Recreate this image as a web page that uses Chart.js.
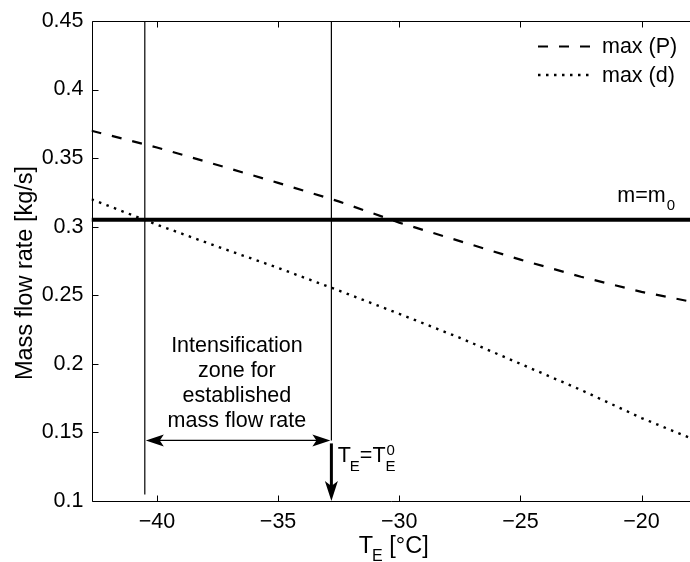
<!DOCTYPE html>
<html>
<head>
<meta charset="utf-8">
<script src="https://cdn.jsdelivr.net/npm/chart.js@4/dist/chart.umd.min.js"></script>
<style>
  html, body { margin: 0; padding: 0; background: #fff; }
  canvas { display: block; }
</style>
</head>
<body>
<canvas id="chart" width="690" height="562"></canvas>
<script>
// Evaporator temperature T_E, °C
const tempC = [-42.7, -40, -37.5, -35, -32.5, -30, -27.5, -25, -22.5, -20, -18];
// Maximum mass flow rate limited by pressure drop, kg/s
const maxP = [0.370, 0.3578, 0.345, 0.332, 0.3185, 0.303, 0.2895, 0.276, 0.2635, 0.2525, 0.2455];
// Maximum mass flow rate limited by pipe diameter, kg/s
const maxD = [0.320, 0.3015, 0.2855, 0.270, 0.2535, 0.2365, 0.219, 0.200, 0.181, 0.1605, 0.146];
// Established mass flow rate m0, kg/s
const m0 = 0.305;

const tRange = [-42.7, -18];
const flowRange = [0.1, 0.45];
const xTicks = [-40, -35, -30, -25, -20];
const yTicks = [0.1, 0.15, 0.2, 0.25, 0.3, 0.35, 0.4, 0.45];

// Intensification zone: from where max(d) meets m0 up to T_E^0
const zoneLimits = [-40.5, -32.8];
const zoneLineBottom = [0.1047, 0.1442];
const zoneArrowFlow = 0.1442;
const teArrowTop = 0.142;

const zoneLabel = ['Intensification', 'zone for', 'established', 'mass flow rate'];
const zoneLabelAt = [-36.7, 0.2084];
const m0LabelAt = [-21.0, 0.318];
const teLabelAt = [-32.54, 0.1288];

const FONT = "'Liberation Sans', Arial, Helvetica, sans-serif";
const TICK_SIZE = 21.5;
const TITLE_SIZE = 23.5;

const pts = (xs, ys) => xs.map((x, i) => ({ x, y: ys[i] }));
const fmtTick = v => String(v).replace('-', '\u2212');

function font(size) { return size + 'px ' + FONT; }

// Filled arrow head with a notched back, tip at (x, y), pointing along angle a
function arrowHead(ctx, x, y, a, len, half, notch) {
  ctx.save();
  ctx.translate(x, y);
  ctx.rotate(a);
  ctx.beginPath();
  ctx.moveTo(0, 0);
  ctx.lineTo(-len, -half);
  ctx.lineTo(-len + notch, 0);
  ctx.lineTo(-len, half);
  ctx.closePath();
  ctx.fill();
  ctx.restore();
}

// Draws a run of text pieces; each piece: [text, size, baselineShift, dx]
function drawRuns(ctx, x, y, runs) {
  let cx = x;
  for (const [t, size, shift, dx] of runs) {
    ctx.font = font(size);
    cx += dx || 0;
    ctx.fillText(t, cx, y + shift);
    cx += ctx.measureText(t).width;
  }
  return cx;
}
function runsWidth(ctx, runs) {
  let w = 0;
  for (const [t, size, , dx] of runs) { ctx.font = font(size); w += (dx || 0) + ctx.measureText(t).width; }
  return w;
}

const decorations = {
  id: 'decorations',
  afterDatasetsDraw(chart) {
    const { ctx, chartArea: a, scales: { x, y } } = chart;
    ctx.save();
    ctx.strokeStyle = '#000';
    ctx.fillStyle = '#000';

    // axes box (left, bottom, top) with inward ticks
    ctx.lineWidth = 1;
    const L = Math.round(a.left) + 0.5, B = Math.round(a.bottom) + 0.5, T = Math.round(a.top) + 0.5;
    ctx.beginPath();
    ctx.moveTo(a.right, T); ctx.lineTo(L, T); ctx.lineTo(L, B); ctx.lineTo(a.right, B);
    for (const v of xTicks) {
      const px = Math.round(x.getPixelForValue(v)) + 0.5;
      ctx.moveTo(px, B); ctx.lineTo(px, B - 6);
      ctx.moveTo(px, T); ctx.lineTo(px, T + 6);
    }
    for (const v of yTicks) {
      const py = Math.round(y.getPixelForValue(v)) + 0.5;
      ctx.moveTo(L, py); ctx.lineTo(L + 6, py);
    }
    ctx.stroke();

    // double arrow across the intensification zone
    const ax0 = x.getPixelForValue(zoneLimits[0]);
    const ax1 = x.getPixelForValue(zoneLimits[1]);
    const ay = y.getPixelForValue(zoneArrowFlow);
    ctx.lineWidth = 1.2;
    ctx.beginPath();
    ctx.moveTo(ax0 + 10, ay); ctx.lineTo(ax1 - 10, ay);
    ctx.stroke();
    arrowHead(ctx, ax0 + 1, ay, Math.PI, 18, 6, 4);
    arrowHead(ctx, ax1 - 1, ay, 0, 18, 6, 4);

    // thick arrow pointing down to T_E^0
    const tx = x.getPixelForValue(zoneLimits[1]);
    const tyTop = y.getPixelForValue(teArrowTop);
    const tyTip = y.getPixelForValue(flowRange[0]);
    ctx.lineWidth = 3;
    ctx.beginPath();
    ctx.moveTo(tx, tyTop); ctx.lineTo(tx, tyTip - 12);
    ctx.stroke();
    arrowHead(ctx, tx, tyTip, Math.PI / 2, 20, 6.5, 5);

    // zone text
    ctx.textAlign = 'center';
    ctx.textBaseline = 'alphabetic';
    ctx.font = font(TICK_SIZE);
    const zx = x.getPixelForValue(zoneLabelAt[0]);
    const zy = y.getPixelForValue(zoneLabelAt[1]);
    zoneLabel.forEach((line, i) => ctx.fillText(line, zx, zy + i * 25));

    // m = m0
    ctx.textAlign = 'left';
    drawRuns(ctx, x.getPixelForValue(m0LabelAt[0]), y.getPixelForValue(m0LabelAt[1]), [
      ['m=m', TICK_SIZE, 0, 0], ['0', 15, 8, 1]
    ]);

    // T_E = T_E^0
    const lx = x.getPixelForValue(teLabelAt[0]);
    const ly = y.getPixelForValue(teLabelAt[1]);
    let cx = drawRuns(ctx, lx, ly, [['T', TICK_SIZE, 0, 0], ['E', 15, 9, -1]]);
    cx = drawRuns(ctx, cx, ly, [['=', TICK_SIZE, 0, 0], ['T', TICK_SIZE, 0, 0]]);
    ctx.font = font(15);
    ctx.fillText('0', cx + 1, ly - 7);
    ctx.fillText('E', cx, ly + 9);

    // legend
    const items = [chart.data.datasets[0], chart.data.datasets[1]];
    const legY = [46.5, 75];
    items.forEach((ds, i) => {
      ctx.save();
      ctx.lineWidth = ds.borderWidth;
      ctx.setLineDash(ds.borderDash || []);
      ctx.beginPath();
      ctx.moveTo(538, legY[i]); ctx.lineTo(591, legY[i]);
      ctx.stroke();
      ctx.restore();
      ctx.font = font(TICK_SIZE);
      ctx.textBaseline = 'middle';
      ctx.fillText(ds.label, 602, legY[i] + 1);
    });

    // axis titles
    ctx.textBaseline = 'alphabetic';
    const xt = [['T', TITLE_SIZE, 0, 0], ['E', 16, 8, -1], [' [\u00B0C]', TITLE_SIZE, 0, 0]];
    const xw = runsWidth(ctx, xt);
    drawRuns(ctx, (a.left + a.right) / 2 + 3 - xw / 2, 553, xt);

    ctx.save();
    ctx.translate(32, 273);
    ctx.rotate(-Math.PI / 2);
    ctx.textAlign = 'center';
    ctx.font = font(TITLE_SIZE);
    ctx.fillText('Mass flow rate [kg/s]', 0, 0);
    ctx.restore();

    ctx.restore();
  }
};

const line = (label, data, width, dash) => ({
  label, data,
  borderColor: '#000',
  borderWidth: width,
  borderDash: dash,
  borderCapStyle: 'butt',
  pointRadius: 0,
  fill: false,
  tension: 0
});

new Chart(document.getElementById('chart'), {
  type: 'line',
  data: {
    datasets: [
      line('max (P)', pts(tempC, maxP), 2.2, [10, 11]),
      line('max (d)', pts(tempC, maxD), 2.4, [2.5, 5.5]),
      line('m=m0', [{ x: tRange[0], y: m0 }, { x: tRange[1], y: m0 }], 4, []),
      line('zone start', [{ x: zoneLimits[0], y: zoneLineBottom[0] }, { x: zoneLimits[0], y: flowRange[1] }], 1.2, []),
      line('zone end', [{ x: zoneLimits[1], y: zoneLineBottom[1] }, { x: zoneLimits[1], y: flowRange[1] }], 1.2, [])
    ]
  },
  options: {
    responsive: false,
    animation: false,
    devicePixelRatio: 1,
    layout: { padding: { top: 21, left: 0, right: 0, bottom: 0 } },
    plugins: { legend: { display: false }, tooltip: { enabled: false } },
    scales: {
      x: {
        type: 'linear',
        min: tRange[0], max: tRange[1],
        grid: { display: false, drawTicks: false },
        border: { display: false },
        afterBuildTicks: s => { s.ticks = xTicks.map(v => ({ value: v })); },
        afterFit: s => { s.height = 61; },
        ticks: {
          color: '#000', font: { family: FONT, size: TICK_SIZE },
          padding: 8, maxRotation: 0, autoSkip: false,
          callback: v => fmtTick(v)
        }
      },
      y: {
        type: 'linear',
        min: flowRange[0], max: flowRange[1],
        grid: { display: false, drawTicks: false },
        border: { display: false },
        afterBuildTicks: s => { s.ticks = yTicks.map(v => ({ value: v })); },
        afterFit: s => { s.width = 91.5; },
        ticks: {
          color: '#000', font: { family: FONT, size: TICK_SIZE },
          padding: 8, autoSkip: false,
          callback: v => String(v)
        }
      }
    }
  },
  plugins: [decorations]
});
</script>
</body>
</html>
